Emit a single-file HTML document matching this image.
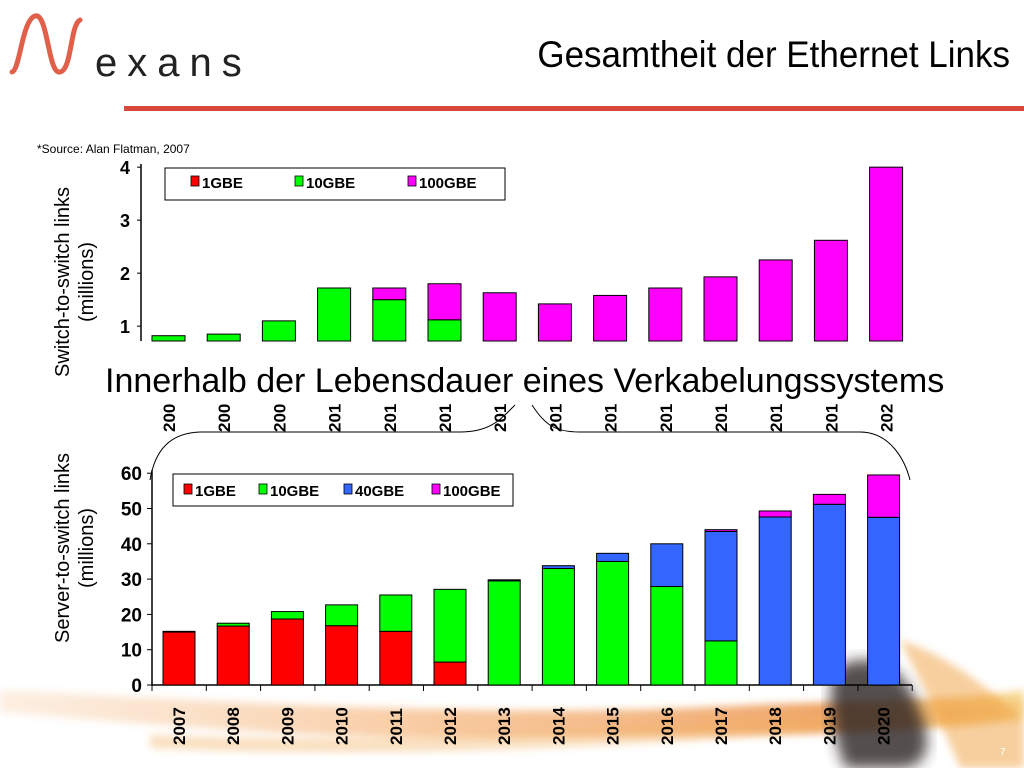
<!DOCTYPE html>
<html><head><meta charset="utf-8">
<style>
html,body{margin:0;padding:0;background:#fff;}
body{width:1024px;height:768px;overflow:hidden;position:relative;font-family:"Liberation Sans",sans-serif;}
svg{position:absolute;left:0;top:0;}
</style></head>
<body>
<svg id="s" width="1024" height="768" viewBox="0 0 1024 768">
<defs>
<linearGradient id="fib" x1="0" y1="0" x2="1" y2="0">
<stop offset="0" stop-color="#f7c79a" stop-opacity="0.3"/>
<stop offset="0.4" stop-color="#f29a4a" stop-opacity="0.5"/>
<stop offset="0.8" stop-color="#e8812a" stop-opacity="0.7"/>
<stop offset="1" stop-color="#f6d37a" stop-opacity="0.8"/>
</linearGradient>
<filter id="bl"><feGaussianBlur stdDeviation="4"/></filter>
<filter id="bl2"><feGaussianBlur stdDeviation="7"/></filter>
</defs>
<g>
<path d="M0,690 C200,700 500,720 750,705 C880,700 960,700 1024,690 L1024,720 C900,735 700,735 500,738 C300,740 100,720 0,712 Z" fill="url(#fib)" filter="url(#bl)"/>
<path d="M150,735 C400,745 650,730 1024,700 L1024,715 C700,745 400,760 150,748 Z" fill="#f3b060" opacity="0.4" filter="url(#bl)"/>
<path d="M900,640 C960,660 1000,700 1024,720 L1024,768 L960,768 C940,720 920,680 900,640 Z" fill="#f0a040" opacity="0.5" filter="url(#bl)"/>
<path d="M835,670 C860,650 900,660 915,700 C935,740 930,768 900,768 L845,768 C835,740 825,700 835,670 Z" fill="#2a2420" opacity="0.8" filter="url(#bl2)"/>
</g>
<g>
<path d="M12,72 C20,70 22,20 35,16 C48,12 48,75 60,72 C72,70 70,25 80,20" fill="none" stroke="#e0604a" stroke-width="5" stroke-linecap="round"/>
<text x="95" y="76" font-size="40" fill="#222" letter-spacing="10">exans</text>
</g>
<text x="1010" y="67" text-anchor="end" font-size="35" fill="#000" transform="translate(1010,0) scale(1,1.05) translate(-1010,-3)">Gesamtheit der Ethernet Links</text>
<rect x="124" y="106" width="900" height="5" fill="#d9483b"/>
<text x="37" y="153" font-size="12" fill="#000">*Source:  Alan Flatman, 2007</text>
<g font-size="20" fill="#000">
<text transform="translate(69,282) rotate(-90)" text-anchor="middle">Switch-to-switch links</text>
<text transform="translate(93,282) rotate(-90)" text-anchor="middle">(millions)</text>
</g>
<g font-size="20" fill="#000">
<text transform="translate(69,548) rotate(-90)" text-anchor="middle">Server-to-switch links</text>
<text transform="translate(93,548) rotate(-90)" text-anchor="middle">(millions)</text>
</g>
<text x="105" y="392" font-size="34" fill="#000">Innerhalb der Lebensdauer eines Verkabelungssystems</text>
<path d="M150,480 C155,450 170,433 200,432 L460,432 C490,432 500,420 515,405" fill="none" stroke="#000" stroke-width="1"/>
<path d="M532,405 C545,425 555,432 580,432 L860,432 C890,432 905,460 910,480" fill="none" stroke="#000" stroke-width="1"/>
<g id="top"></g>
<g id="bot"></g>
<text x="1000" y="755" font-size="10" fill="#fff">7</text>
</svg>
<script>
const years=["2007","2008","2009","2010","2011","2012","2013","2014","2015","2016","2017","2018","2019","2020"];
const topG1=[0,0,0,0,0,0,0,0,0,0,0,0,0,0];
const topG10=[0.82,0.85,1.1,1.72,1.5,1.12,0,0,0,0,0,0,0,0];
const topG100=[0,0,0,0,0.22,0.68,1.63,1.42,1.58,1.72,1.93,2.25,2.62,4.0];
const topTicks=[1,2,3,4];
const botG1=[15,16.7,18.7,16.8,15.2,6.5,0,0,0,0,0,0,0,0];
const botG10=[0.2,0.8,2.1,5.9,10.3,20.6,29.5,33,35,27.9,12.5,0,0,0];
const botG40=[0,0,0,0,0,0,0.3,0.8,2.3,12.1,31,47.6,51.2,47.5];
const botG100=[0,0,0,0,0,0,0,0,0,0,0.5,1.7,2.8,12];
const botTicks=[0,10,20,30,40,50,60];
const NS="http://www.w3.org/2000/svg";
function mk(p,tag,a){const e=document.createElementNS(NS,tag);for(const k in a)e.setAttribute(k,a[k]);p.appendChild(e);return e;}
const colors={g1:"#ff0000",g10:"#00ff00",g40:"#3366ff",g100:"#ff00ff"};

const T=document.getElementById('top');
const tY=v=>341-(v-0.72)*53;
const tX=i=>152+i*55.2;
mk(T,'line',{x1:141,y1:164,x2:141,y2:341,stroke:'#000','stroke-width':1.5});
topTicks.forEach(t=>{
 const tk=mk(T,'line',{x1:137,y1:tY(t),x2:141,y2:tY(t),stroke:'#000'});
 
 
 const l=mk(T,'text',{x:130,y:tY(t)+7,'text-anchor':'end','font-size':18,'font-weight':'bold'});
 l.textContent=t;
 
 
});
years.forEach((y,i)=>{
 let base=0.72;
 [["g1",topG1],["g10",topG10],["g100",topG100]].forEach(([k,arr])=>{
  const v=arr[i]; if(v<=0) return;
  const lo=base;
  const hi=(base===0.72)?v:base+v;
  const r=mk(T,'rect',{x:tX(i),y:tY(hi),width:33,height:Math.max(0,tY(lo)-tY(hi)),fill:colors[k],stroke:'#000','stroke-width':1});
  
  
  base=hi;
 });
 const l=mk(T,'text',{transform:`translate(${tX(i)+23},432) rotate(-90)`,'font-size':17,'font-weight':'bold'});
 l.textContent=y.slice(0,3);
 
 
});
const TL=mk(T,'g',{});


mk(TL,'rect',{x:165,y:168,width:340,height:32,fill:'#fff',stroke:'#000'});
[["1GBE","g1",191],["10GBE","g10",295],["100GBE","g100",408]].forEach(([n,k,x])=>{
 const e=mk(TL,'rect',{x:x,y:176,width:8,height:10,fill:colors[k],stroke:'#000','stroke-width':0.8});
 
 
 const t=mk(TL,'text',{x:x+11,y:188,'font-size':15,'font-weight':'bold'});
 t.textContent=n;
 
 
});

const B=document.getElementById('bot');
const bY=v=>685-v*3.53;
const bX=i=>163+i*54.2;
mk(B,'line',{x1:152,y1:470,x2:152,y2:686,stroke:'#000','stroke-width':1.5});
mk(B,'line',{x1:152,y1:685,x2:912,y2:685,stroke:'#000','stroke-width':1.5});
botTicks.forEach(t=>{
 const tk=mk(B,'line',{x1:147,y1:bY(t),x2:152,y2:bY(t),stroke:'#000'});
 
 
 const l=mk(B,'text',{x:142,y:bY(t)+7,'text-anchor':'end','font-size':19,'font-weight':'bold'});
 l.textContent=t;
 
 
});
for(let i=0;i<=14;i++){
 const tk=mk(B,'line',{x1:152+i*54.3,y1:685,x2:152+i*54.3,y2:691,stroke:'#000'});
 
 
}
years.forEach((y,i)=>{
 let base=0;
 [["g1",botG1],["g10",botG10],["g40",botG40],["g100",botG100]].forEach(([k,arr])=>{
  const v=arr[i]; if(v<=0) return;
  const r=mk(B,'rect',{x:bX(i),y:bY(base+v),width:32,height:bY(base)-bY(base+v),fill:colors[k],stroke:'#000','stroke-width':1});
  
  
  base+=v;
 });
 const l=mk(B,'text',{transform:`translate(${bX(i)+22},745) rotate(-90)`,'font-size':17,'font-weight':'bold'});
 l.textContent=y;
 
 
});
const BL=mk(B,'g',{});


mk(BL,'rect',{x:173,y:474,width:340,height:32,fill:'#fff',stroke:'#000'});
[["1GBE","g1",184],["10GBE","g10",259],["40GBE","g40",344],["100GBE","g100",432]].forEach(([n,k,x])=>{
 const e=mk(BL,'rect',{x:x,y:484,width:8,height:10,fill:colors[k],stroke:'#000','stroke-width':0.8});
 
 
 const t=mk(BL,'text',{x:x+11,y:496,'font-size':15,'font-weight':'bold'});
 t.textContent=n;
 
 
});
</script>
</body></html>
